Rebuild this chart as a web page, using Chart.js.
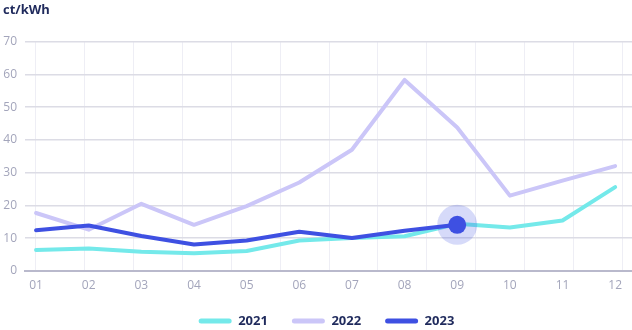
<!DOCTYPE html>
<html>
<head>
<meta charset="utf-8">
<script src="https://cdn.jsdelivr.net/npm/chart.js@4"></script>
<style>
  html, body { margin: 0; padding: 0; background: #fff; }
  #wrap { width: 632px; height: 330px; }
</style>
</head>
<body>
<div id="wrap"><canvas id="chart"></canvas></div>
<script>
const months = ['01', '02', '03', '04', '05', '06', '07', '08', '09', '10', '11', '12'];
const years = ['2021', '2022', '2023'];
const price2021 = [6.4, 6.9, 5.9, 5.4, 6.1, 9.3, 10.1, 10.6, 14.4, 13.3, 15.4, 25.6];
const price2022 = [17.7, 12.6, 20.5, 14.1, 19.8, 27.0, 37.0, 58.3, 43.8, 23.0, 27.6, 32.0];
const price2023 = [12.4, 13.9, 10.7, 8.1, 9.3, 12.0, 10.1, 12.3, 14.1];
const yTicks = [0, 10, 20, 30, 40, 50, 60, 70];

const colors = ['#74e9ea', '#cbc6f8', '#3e50e2'];
const navy = '#1f2a5c';
const tickGrey = '#a3a5bb';

function xy(values) {
  return values.map((v, i) => ({ x: i + 1, y: v }));
}

const last = price2023.length - 1;

// legend keeps wide gaps between items but less empty space above them,
// and sits centred under the plot area rather than the whole canvas
const legendTrim = {
  id: 'legendTrim',
  beforeLayout(chart) {
    const lg = chart.legend;
    if (lg && !lg._trimmed) {
      const fit = lg.fit;
      lg.fit = function () { fit.call(this); this.height -= 7.5; };
      lg._trimmed = true;
    }
  },
  afterLayout(chart) {
    const lg = chart.legend;
    lg.left += 9;
    lg.right += 9;
  }
};

const ctx = document.getElementById('chart').getContext('2d');
new Chart(ctx, {
  type: 'line',
  data: {
    datasets: [
      {
        label: years[0], data: xy(price2021), order: 4,
        borderColor: colors[0], backgroundColor: colors[0]
      },
      {
        label: years[1], data: xy(price2022), order: 3,
        borderColor: colors[1], backgroundColor: colors[1]
      },
      {
        label: years[2], data: xy(price2023), order: 1,
        borderColor: colors[2], backgroundColor: colors[2],
        pointRadius: price2023.map((v, i) => i === last ? 9 : 0)
      },
      {
        // soft ring behind the latest 2023 value
        label: 'halo', data: [{ x: last + 1, y: price2023[last] }], order: 2,
        showLine: false, pointRadius: 20, borderWidth: 0,
        backgroundColor: 'rgba(62, 80, 226, 0.21)'
      }
    ]
  },
  plugins: [legendTrim],
  options: {
    responsive: true,
    maintainAspectRatio: false,
    animation: false,
    events: [],
    layout: { autoPadding: false, padding: { left: 3, right: 0, top: 0, bottom: 0 } },
    elements: {
      line: { borderWidth: 4, tension: 0, borderCapStyle: 'round', borderJoinStyle: 'round' },
      point: { radius: 0, borderWidth: 0 }
    },
    scales: {
      x: {
        type: 'linear',
        min: 0.79, max: 12.32,
        afterBuildTicks: axis => { axis.ticks = months.map((m, i) => ({ value: i + 1 })); },
        afterFit: axis => {
          axis.paddingLeft = 0;
          axis.paddingRight = 0;
          axis.height = 19.5;
        },
        ticks: {
          callback: v => months[v - 1],
          color: tickGrey,
          font: { family: 'Open Sans', size: 12 },
          padding: 7,
          maxRotation: 0,
          autoSkip: false
        },
        grid: { display: false, drawTicks: false, tickLength: 0 },
        border: { display: true, color: '#b9b9cc', width: 2 }
      },
      xg: {
        type: 'linear',
        position: 'top',
        min: -0.225, max: 12.2,
        afterBuildTicks: axis => { axis.ticks = Array.from({ length: 13 }, (_, i) => ({ value: i })); },
        afterFit: axis => { axis.paddingLeft = 0; axis.paddingRight = 0; axis.height = 0; },
        ticks: { display: false },
        grid: { color: '#eeeef5', lineWidth: 1, drawTicks: false, tickLength: 0 },
        border: { display: false }
      },
      y: {
        min: 0, max: 70,
        afterBuildTicks: axis => { axis.ticks = yTicks.map(v => ({ value: v })); },
        afterFit: axis => { axis.width = 22; },
        ticks: {
          color: tickGrey,
          font: { family: 'Open Sans', size: 12 },
          padding: 8
        },
        grid: {
          color: '#dcdce5', lineWidth: 1.5, drawTicks: false, tickLength: 0
        },
        border: { display: false }
      }
    },
    plugins: {
      title: {
        display: true,
        text: 'ct/kWh',
        align: 'start',
        color: navy,
        font: { family: 'Open Sans', size: 13, weight: 'bold' },
        padding: { top: 2, bottom: 24 }
      },
      legend: {
        position: 'bottom',
        labels: {
          generateLabels: chart => Chart.defaults.plugins.legend.labels.generateLabels(chart)
            .filter(item => item.text !== 'halo')
            .sort((a, b) => a.datasetIndex - b.datasetIndex)
            .map(item => Object.assign(item, { lineWidth: 0 })),
          color: navy,
          font: { family: 'Open Sans', size: 13, weight: 'bold' },
          boxWidth: 33,
          boxHeight: 5,
          useBorderRadius: true,
          borderRadius: 2.5,
          padding: 24
        }
      },
      tooltip: { enabled: false }
    }
  }
});
</script>
</body>
</html>
